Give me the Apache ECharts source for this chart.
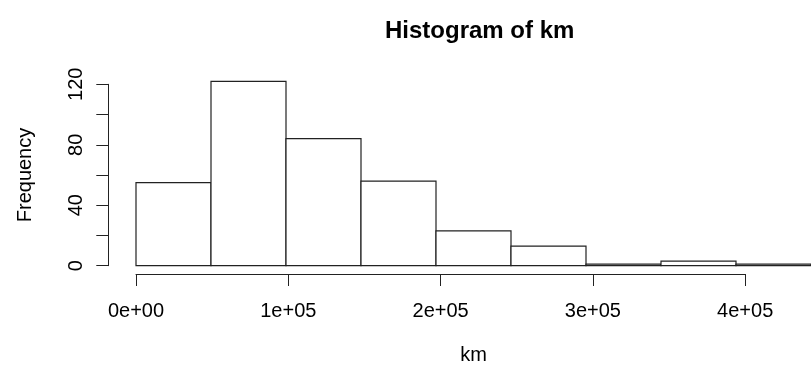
<!DOCTYPE html>
<html>
<head>
<meta charset="utf-8">
<script src="https://cdn.jsdelivr.net/npm/echarts@6/dist/echarts.min.js"></script>
<style>html,body{margin:0;padding:0;background:#fff;}#c{width:811px;height:371px;}</style>
</head>
<body>
<div id="c"></div>
<script>
// Histogram bin breaks and counts
var breaks = [0, 50000, 100000, 150000, 200000, 250000, 300000, 350000, 400000, 450000];
var counts = [55, 122, 84, 56, 23, 13, 1, 3, 1];
var xTickLabels = ['0e+00', '1e+05', '2e+05', '3e+05', '4e+05'];
var yTickLabels = ['0', '', '40', '', '80', '', '120'];

var bins = [];
for (var i = 0; i < counts.length; i++) bins.push([breaks[i], breaks[i + 1], counts[i]]);

var FONT = '"Liberation Sans", Arial, sans-serif';
var LINE = '#222';
var chart = echarts.init(document.getElementById('c'), null, {renderer: 'canvas'});
chart.setOption({
  animation: false,
  backgroundColor: '#fff',
  title: {
    text: 'Histogram of km', left: 380, top: 14,
    textStyle: {fontFamily: FONT, fontSize: 24, fontWeight: 'bold', color: '#000'}
  },
  grid: [
    {left: 136, top: 84.3, width: 685.4, height: 181.4},
    {left: 136, top: 84.3, width: 609.2, height: 189.7},
    {left: 108.3, top: 84.3, width: 100, height: 181.4}
  ],
  xAxis: [
    {gridIndex: 0, type: 'value', min: 0, max: 450000, name: 'km', nameLocation: 'middle', nameGap: 80,
     nameTextStyle: {fontFamily: FONT, fontSize: 20, color: '#000'},
     axisLine: {show: false}, axisTick: {show: false}, axisLabel: {show: false}, splitLine: {show: false}},
    {gridIndex: 1, type: 'value', min: 0, max: 400000, interval: 100000, position: 'bottom',
     axisLine: {show: true, lineStyle: {color: LINE, width: 1}},
     axisTick: {show: true, length: 12, lineStyle: {color: LINE, width: 1}},
     axisLabel: {margin: 27, fontFamily: FONT, fontSize: 20, color: '#000',
       formatter: function (v) { return xTickLabels[Math.round(v / 100000)]; }},
     splitLine: {show: false}},
    {gridIndex: 2, type: 'value', show: false}
  ],
  yAxis: [
    {gridIndex: 0, type: 'value', min: 0, max: 120, show: false},
    {gridIndex: 1, type: 'value', show: false},
    {gridIndex: 2, type: 'value', min: 0, max: 120, interval: 20, position: 'left',
     name: 'Frequency', nameLocation: 'middle', nameGap: 73, nameRotate: 90,
     nameTextStyle: {fontFamily: FONT, fontSize: 20, color: '#000'},
     axisLine: {show: true, lineStyle: {color: LINE, width: 1}},
     axisTick: {show: true, length: 12, lineStyle: {color: LINE, width: 1}},
     axisLabel: {rotate: 90, margin: 22, fontFamily: FONT, fontSize: 20, color: '#000',
       formatter: function (v) { return yTickLabels[Math.round(v / 20)]; }},
     splitLine: {show: false}}
  ],
  series: [{
    type: 'custom', xAxisIndex: 0, yAxisIndex: 0, clip: false,
    data: bins,
    renderItem: function (params, api) {
      var p0 = api.coord([api.value(0), api.value(2)]);
      var p1 = api.coord([api.value(1), 0]);
      return {
        type: 'rect',
        shape: {x: p0[0], y: p0[1], width: p1[0] - p0[0], height: p1[1] - p0[1]},
        style: {fill: '#fff', stroke: LINE, lineWidth: 1.2}
      };
    }
  }]
});
</script>
</body>
</html>
